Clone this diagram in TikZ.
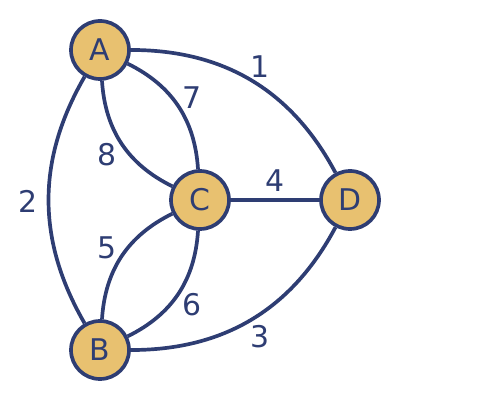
\documentclass[tikz,border=0pt]{standalone}
\usepackage{fontspec}
\setmainfont{DejaVu Sans}
\definecolor{navy}{HTML}{2E3D73}
\definecolor{sand}{HTML}{E8C170}
\tikzset{
  vertex/.style={circle,draw=navy,fill=sand,line width=2.1pt,minimum size=1.16cm,inner sep=0pt,text=navy,font=\fontsize{17}{17}\selectfont},
  bridge/.style={draw=navy,line width=2.1pt},
  num/.style={text=navy,font=\fontsize{17}{17}\selectfont}
}
\begin{document}
\begin{tikzpicture}

		\useasboundingbox (0,0) rectangle (10,8);

		\node[vertex] (A) at (2,7) {A}; %左上
		\node[vertex] (B) at (2,1) {B}; %左下
		\node[vertex] (C) at (4,4) {C}; %中央
		\node[vertex] (D) at (7,4) {D}; %右

		\draw[bridge] (A) to[bend left=31] (D);
		\draw[bridge] (A) to[bend right=30] (B);
		\draw[bridge] (B) to[bend right=31] (D);
		\draw[bridge] (A) to[bend left=30] (C);
		\draw[bridge] (A) to[bend right=30] (C);
		\draw[bridge] (B) to[bend left=30] (C);
		\draw[bridge] (B) to[bend right=30] (C);
		\draw[bridge] (C) -- (D);

		\node[num] (n1) at (5.2,6.66) {1};
		\node[num] (n2) at (0.56,3.98) {2};
		\node[num] (n3) at (5.2,1.26) {3};
		\node[num] (n4) at (5.5,4.38) {4};
		\node[num] (n5) at (2.14,3.04) {5};
		\node[num] (n6) at (3.84,1.9) {6};
		\node[num] (n7) at (3.84,6.04) {7};
		\node[num] (n8) at (2.14,4.9) {8};
	\end{tikzpicture}
\end{document}
